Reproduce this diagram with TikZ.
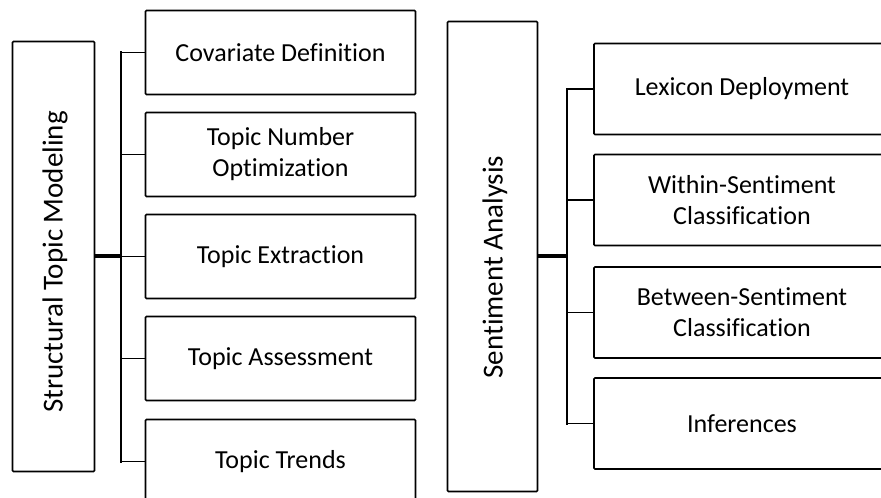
\documentclass[tikz,border=0pt]{standalone}
\usepackage{fontspec}
\setmainfont[Ligatures=NoCommon]{Carlito}
\begin{document}
\begin{tikzpicture}[x=1pt,y=-1pt,
  box/.style={draw=black, line width=1.6pt, rounded corners=1pt, inner sep=0pt, outer sep=0pt, align=center, font=\fontsize{26}{31}\selectfont},
  leftchild/.style={box, minimum width=270pt, minimum height=84pt},
  rightchild/.style={box, minimum width=296pt, minimum height=91pt},
  biglabel/.style={rotate=90, inner sep=0pt, font=\fontsize{29}{34}\selectfont},
  branch/.style={draw=black, line width=1.6pt},
  busline/.style={draw=black, line width=2.6pt, line cap=rect},
  trunk/.style={draw=black, line width=3.6pt}]
\clip (0,0) rectangle (881,498);
\fill[white] (0,0) rectangle (881,498);
% left group
\node[box, minimum width=82pt, minimum height=430pt] (stm) at (53.5,256.5) {};
\node[biglabel] (stmlabel) at (55,262) {Structural Topic Modeling};
\node[leftchild] (l1) at (280.5,52.5) {Covariate Definition};
\node[leftchild] (l2) at (280.5,154.5) {Topic Number\\Optimization};
\node[leftchild] (l3) at (280.5,256.5) {Topic Extraction};
\node[leftchild] (l4) at (280.5,358.5) {Topic Assessment};
\node[leftchild] (l5) at (280.5,461.5) {Topic Trends};
\coordinate (lbus) at (121,256);
\path[busline] (l1.west -| lbus) -- (l5.west -| lbus);
\foreach \n in {l1,l2,l3,l4,l5} \path[branch] (\n.west -| lbus) -- (\n.west);
\path[trunk] (stm.east |- lbus) -- (lbus);
% right group
\node[box, minimum width=90pt, minimum height=470pt] (sa) at (492.5,256.5) {};
\node[biglabel] (salabel) at (495,267) {Sentiment Analysis};
\node[rightchild] (r1) at (742,89) {Lexicon Deployment};
\node[rightchild] (r2) at (742,200) {Within-Sentiment\\Classification};
\node[rightchild] (r3) at (742,312.5) {Between-Sentiment\\Classification};
\node[rightchild] (r4) at (742,423.5) {Inferences};
\coordinate (rbus) at (567,256);
\path[busline] (r1.west -| rbus) -- (r4.west -| rbus);
\foreach \n in {r1,r2,r3,r4} \path[branch] (\n.west -| rbus) -- (\n.west);
\path[trunk] (sa.east |- rbus) -- (rbus);
\end{tikzpicture}
\end{document}
